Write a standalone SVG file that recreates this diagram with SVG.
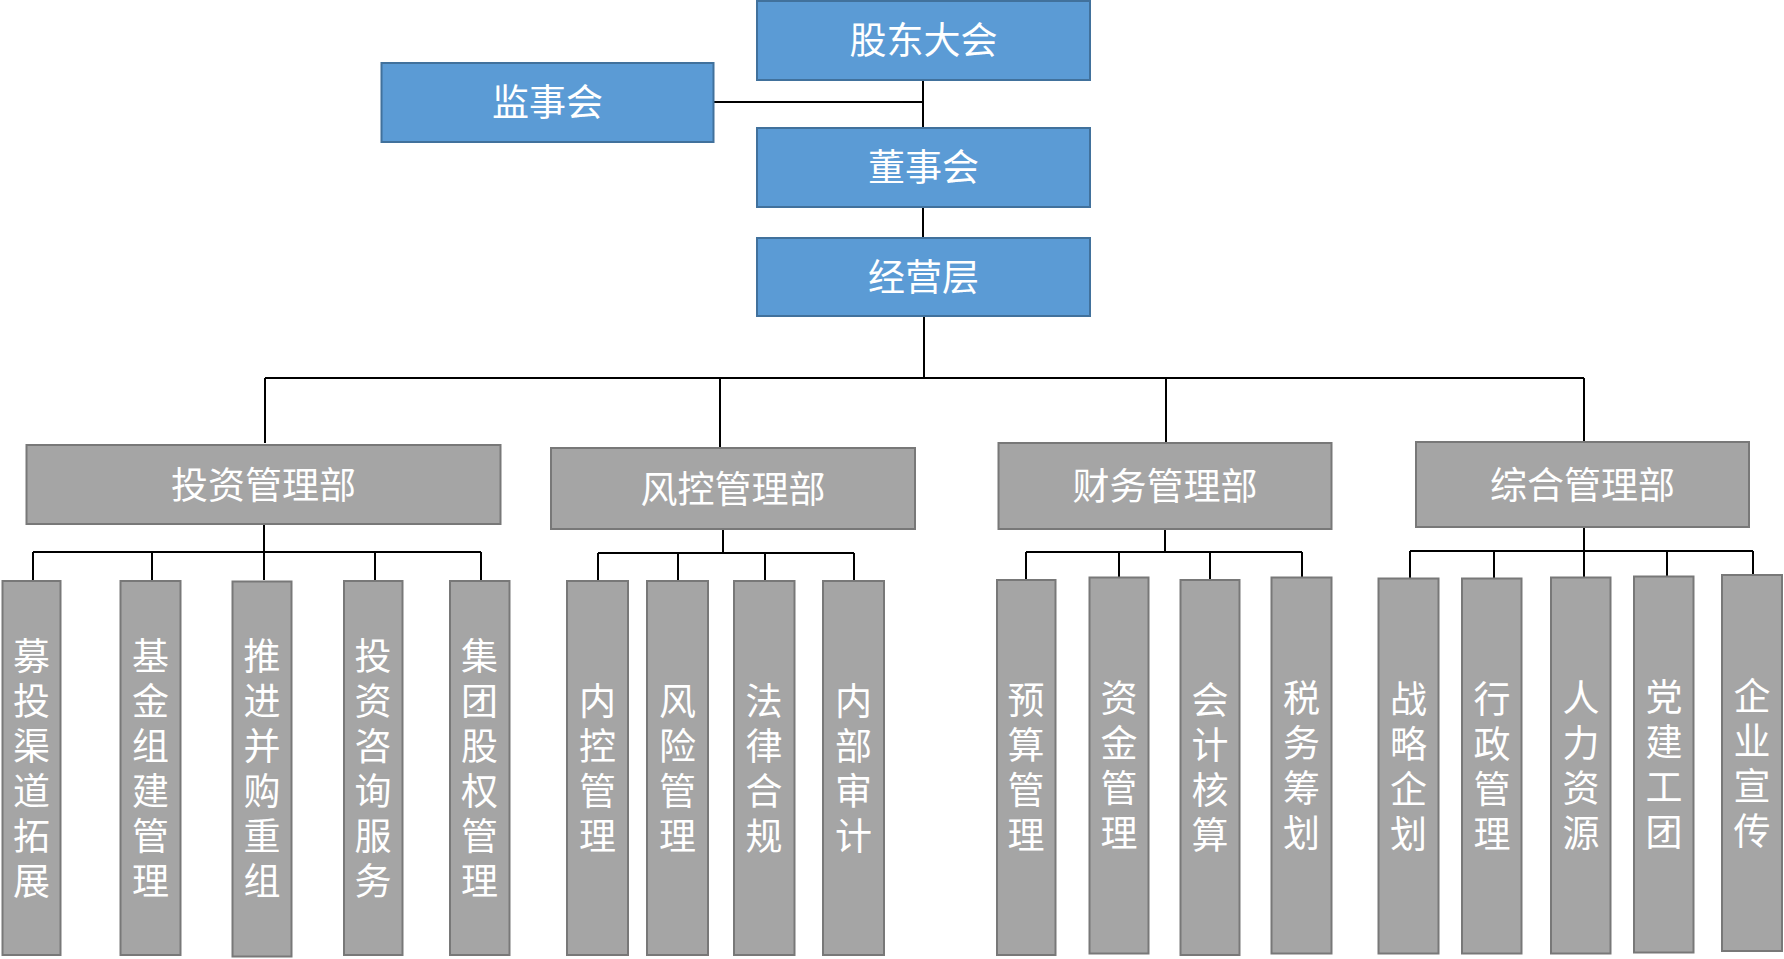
<svg xmlns="http://www.w3.org/2000/svg" width="1784" height="959" viewBox="0 0 1784 959">
<style>
.blue{fill:#5B9BD5;stroke:#41719C;stroke-width:2}
.gray{fill:#A5A5A5;stroke:#787878;stroke-width:2}
.t{font-family:"Noto Sans CJK SC","Microsoft YaHei",sans-serif;font-size:37px;fill:#FFFFFF;text-anchor:middle;dominant-baseline:central}
.v{font-family:"Noto Sans CJK SC","Microsoft YaHei",sans-serif;font-size:37px;fill:#FFFFFF;text-anchor:middle;writing-mode:vertical-rl;letter-spacing:8px}
.conn{fill:none;stroke:#000000;stroke-width:2}
</style>
<rect width="1784" height="959" fill="#FFFFFF"/>
<g id="connectors" class="conn">
<path d="M714 102H923M923 80V127M923 207V237M924 316V378M265 378H1584M265 378V443M720 378V447M1166 378V442M1584 378V441"/>
<path d="M264 524V552M33 552H481M33 552V580M152 552V580M264 552V580M375 552V580M481 552V580"/>
<path d="M723 529V553M598 553H854M598 553V580M678 553V580M765 553V580M854 553V580"/>
<path d="M1165 529V552M1026 552H1302M1026 552V579M1119 552V577M1210 552V579M1302 552V577"/>
<path d="M1584 527V551M1410 551H1753M1410 551V578M1494 551V578M1584 551V577M1667 551V576M1753 551V574"/>
</g>
<g id="gudongdahui"><rect class="blue" x="757" y="1" width="333" height="79"/><text class="t" x="923.5" y="38">股东大会</text></g>
<g id="jianshihui"><rect class="blue" x="381.5" y="63" width="332" height="79"/><text class="t" x="547.5" y="100">监事会</text></g>
<g id="dongshihui"><rect class="blue" x="757" y="128" width="333" height="79"/><text class="t" x="923.5" y="165">董事会</text></g>
<g id="jingyingceng"><rect class="blue" x="757" y="238" width="333" height="78"/><text class="t" x="923.5" y="275">经营层</text></g>
<g id="touzi"><rect class="gray" x="26.5" y="445" width="474" height="79"/><text class="t" x="263.5" y="482.5">投资管理部</text></g>
<g id="fengkong"><rect class="gray" x="551" y="448" width="364" height="81"/><text class="t" x="733" y="486.5">风控管理部</text></g>
<g id="caiwu"><rect class="gray" x="998.5" y="443" width="333" height="86"/><text class="t" x="1165" y="484">财务管理部</text></g>
<g id="zonghe"><rect class="gray" x="1416" y="442" width="333" height="85"/><text class="t" x="1582.5" y="482.5">综合管理部</text></g>
<g id="leaf1"><rect class="gray" x="2.5" y="581" width="58" height="374"/><text class="v" x="31.5" y="772">募投渠道拓展</text></g>
<g id="leaf2"><rect class="gray" x="120.5" y="581" width="60" height="374"/><text class="v" x="150.5" y="772">基金组建管理</text></g>
<g id="leaf3"><rect class="gray" x="232.5" y="581.5" width="59" height="375"/><text class="v" x="262" y="772.5">推进并购重组</text></g>
<g id="leaf4"><rect class="gray" x="344" y="581" width="58.5" height="374"/><text class="v" x="373" y="772">投资咨询服务</text></g>
<g id="leaf5"><rect class="gray" x="450" y="581" width="59.5" height="374"/><text class="v" x="479.5" y="772">集团股权管理</text></g>
<g id="leaf6"><rect class="gray" x="567" y="581" width="61" height="374"/><text class="v" x="597.5" y="772">内控管理</text></g>
<g id="leaf7"><rect class="gray" x="647" y="581" width="61" height="374"/><text class="v" x="677.5" y="772">风险管理</text></g>
<g id="leaf8"><rect class="gray" x="734" y="581" width="60.5" height="374"/><text class="v" x="764" y="772">法律合规</text></g>
<g id="leaf9"><rect class="gray" x="823" y="581" width="61" height="374"/><text class="v" x="853.5" y="772">内部审计</text></g>
<g id="leaf10"><rect class="gray" x="997" y="580" width="58.5" height="375"/><text class="v" x="1026" y="771.5">预算管理</text></g>
<g id="leaf11"><rect class="gray" x="1089.5" y="577.5" width="59" height="376"/><text class="v" x="1119" y="769.5">资金管理</text></g>
<g id="leaf12"><rect class="gray" x="1180.5" y="580" width="59" height="375"/><text class="v" x="1210" y="771.5">会计核算</text></g>
<g id="leaf13"><rect class="gray" x="1271.5" y="577.5" width="60" height="376"/><text class="v" x="1301.5" y="769.5">税务筹划</text></g>
<g id="leaf14"><rect class="gray" x="1378.5" y="578.5" width="60" height="375"/><text class="v" x="1408.5" y="770">战略企划</text></g>
<g id="leaf15"><rect class="gray" x="1462" y="578.5" width="59.5" height="375"/><text class="v" x="1492" y="770">行政管理</text></g>
<g id="leaf16"><rect class="gray" x="1551" y="577.5" width="59.5" height="376"/><text class="v" x="1581" y="769">人力资源</text></g>
<g id="leaf17"><rect class="gray" x="1634" y="576.5" width="59.5" height="376"/><text class="v" x="1664" y="768.5">党建工团</text></g>
<g id="leaf18"><rect class="gray" x="1722" y="575" width="60" height="376"/><text class="v" x="1752" y="767">企业宣传</text></g>
</svg>
